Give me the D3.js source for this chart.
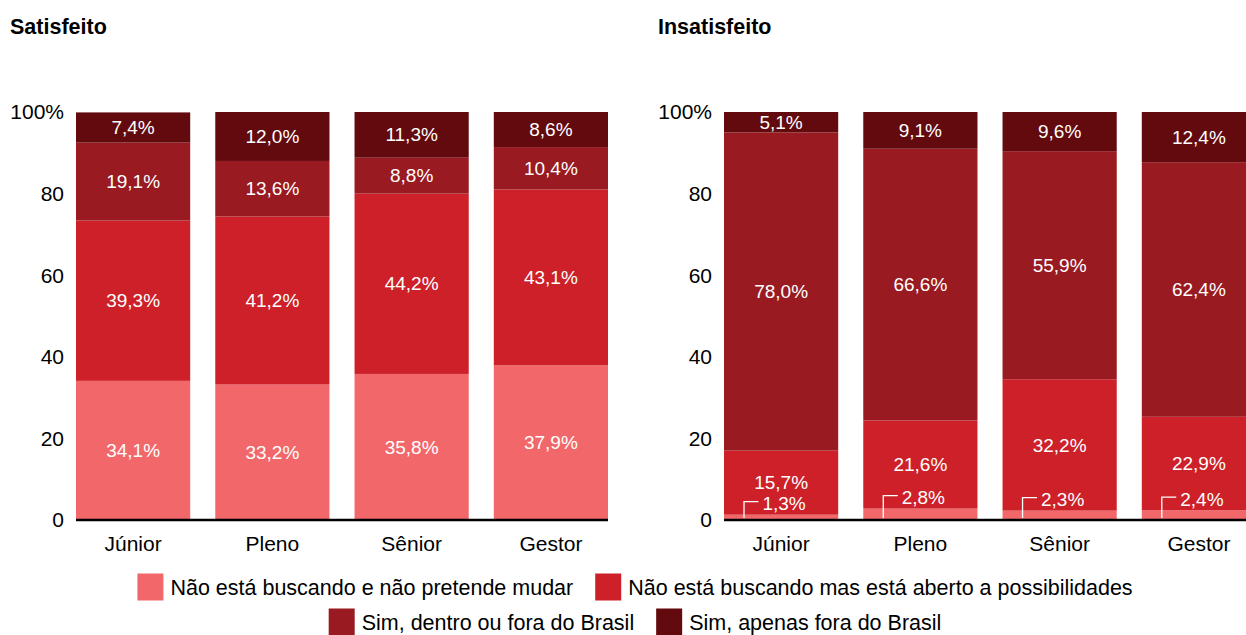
<!DOCTYPE html>
<html>
<head>
<meta charset="utf-8">
<script src="https://cdn.jsdelivr.net/npm/d3@7"></script>
<style>
  body { margin: 0; background: #fff; }
  svg { font-family: "Liberation Sans", Arial, sans-serif; display: block; }
</style>
</head>
<body>
<div id="chart"></div>
<script>
const categories = ["Júnior", "Pleno", "Sênior", "Gestor"];
const seriesKeys = ["naoBusca", "abertos", "simAmbos", "simFora"];
const seriesLabels = [
    "Não está buscando e não pretende mudar",
    "Não está buscando mas está aberto a possibilidades",
    "Sim, dentro ou fora do Brasil",
    "Sim, apenas fora do Brasil"
];
const colours = ["#f2686a", "#cd2028", "#991a20", "#620a0e"];

// Satisfeito
const satNaoBusca = [34.1, 33.2, 35.8, 37.9];
const satAbertos = [39.3, 41.2, 44.2, 43.1];
const satSimAmbos = [19.1, 13.6, 8.8, 10.4];
const satSimFora = [7.4, 12.0, 11.3, 8.6];

// Insatisfeito
const insNaoBusca = [1.3, 2.8, 2.3, 2.4];
const insAbertos = [15.7, 21.6, 32.2, 22.9];
const insSimAmbos = [78.0, 66.6, 55.9, 62.4];
const insSimFora = [5.1, 9.1, 9.6, 12.4];

const yTicks = [0, 20, 40, 60, 80, 100];
const yTickLabels = ["0", "20", "40", "60", "80", "100%"];

const W = 1246, H = 635;
const svg = d3.select("#chart").append("svg")
    .attr("width", W)
    .attr("height", H);

const fmt = v => v.toFixed(1).replace(".", ",") + "%";

const y = d3.scaleLinear().domain([0, 100]).range([520, 112]);

const buildRows = (a, b, c, d) => categories.map((cat, i) => ({
    cat, naoBusca: a[i], abertos: b[i], simAmbos: c[i], simFora: d[i]
}));

const drawPanel = (rows, title, left) => {
    const g = svg.append("g");

    const x = d3.scaleBand()
        .domain(categories)
        .range([left, left + 532])
        .paddingInner(0.18)
        .paddingOuter(0);

    const stacked = d3.stack().keys(seriesKeys)(rows);

    g.append("text")
        .attr("x", left - 66)
        .attr("y", 34)
        .style("font-size", "21.5px")
        .style("font-weight", "bold")
        .text(title);

    const layers = g.selectAll(".layer")
        .data(stacked)
        .join("g")
        .attr("fill", (d, i) => colours[i]);

    layers.selectAll("rect")
        .data(d => d)
        .join("rect")
        .attr("x", d => x(d.data.cat))
        .attr("width", x.bandwidth())
        .attr("y", d => y(Math.min(d[1], 100)))
        .attr("height", d => y(d[0]) - y(Math.min(d[1], 100)));

    // segment labels
    stacked.forEach(layer => {
        layer.forEach(d => {
            const v = d[1] - d[0];
            const cx = x(d.data.cat) + x.bandwidth() / 2;
            if (v >= 4) {
                g.append("text")
                    .attr("x", cx)
                    .attr("y", (y(d[0]) + y(Math.min(d[1], 100))) / 2)
                    .attr("dy", "0.35em")
                    .attr("text-anchor", "middle")
                    .attr("fill", "white")
                    .style("font-size", "19px")
                    .text(fmt(v));
            } else {
                // small segment: label above with leader line
                const ty = y(d[1]) - 11;
                const lx = x(d.data.cat) + 20;
                const t = g.append("text")
                    .attr("x", cx + 3)
                    .attr("y", ty)
                    .attr("dy", "0.35em")
                    .attr("text-anchor", "middle")
                    .attr("fill", "white")
                    .style("font-size", "19px")
                    .text(fmt(v));
                const tw = t.node().getComputedTextLength();
                g.append("path")
                    .attr("d", `M${lx},${y(0) - 2}V${ty - 2}H${cx + 3 - tw / 2 - 4}`)
                    .attr("fill", "none")
                    .attr("stroke", "white")
                    .attr("stroke-width", 1.3);
            }
        });
    });

    // baseline
    g.append("line")
        .attr("x1", left)
        .attr("x2", left + 532)
        .attr("y1", y(0))
        .attr("y2", y(0))
        .attr("stroke", "black")
        .attr("stroke-width", 2.5);

    // y tick labels
    g.selectAll(".ytick")
        .data(yTicks)
        .join("text")
        .attr("x", left - 12)
        .attr("y", d => y(d))
        .attr("dy", "0.35em")
        .attr("text-anchor", "end")
        .style("font-size", "21px")
        .text((d, i) => yTickLabels[i]);

    // category labels
    g.selectAll(".xtick")
        .data(categories)
        .join("text")
        .attr("x", d => x(d) + x.bandwidth() / 2)
        .attr("y", 551)
        .attr("text-anchor", "middle")
        .style("font-size", "21px")
        .text(d => d);
};

drawPanel(buildRows(satNaoBusca, satAbertos, satSimAmbos, satSimFora), "Satisfeito", 76);
drawPanel(buildRows(insNaoBusca, insAbertos, insSimAmbos, insSimFora), "Insatisfeito", 724);

// legend, two centred rows
const legendRows = [[0, 1], [2, 3]];
const legendY = [587, 622];
const legend = svg.append("g");
legendRows.forEach((row, r) => {
    const items = row.map(i => {
        const gi = legend.append("g");
        gi.append("rect")
            .attr("width", 26)
            .attr("height", 27)
            .attr("y", -13.5)
            .attr("fill", colours[i]);
        const t = gi.append("text")
            .attr("x", 33)
            .attr("dy", "0.35em")
            .style("font-size", "21.5px")
            .text(seriesLabels[i]);
        return { gi, w: 33 + t.node().getComputedTextLength() };
    });
    const gap = 22;
    const total = d3.sum(items, d => d.w) + gap * (items.length - 1);
    let cx = 635 - total / 2;
    items.forEach(it => {
        it.gi.attr("transform", `translate(${cx},${legendY[r]})`);
        cx += it.w + gap;
    });
});
</script>
</body>
</html>
